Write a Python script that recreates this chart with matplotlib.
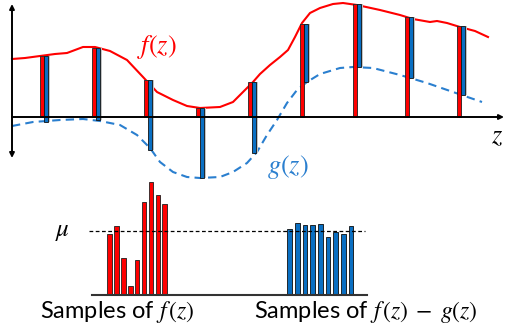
import numpy as np
import matplotlib.pyplot as plt

plt.rcParams["mathtext.fontset"] = "stix"

# --- top panel: curves f(z), g(z) and the sampled points ---
f_curve_z = [12, 25, 40, 55, 67, 83, 95, 110, 127, 143, 157, 173, 187, 200, 220, 233,
             245, 253, 260, 270, 280, 288, 295, 302, 310, 320, 333, 343, 357, 380, 400,
             413, 430, 437, 447, 460, 475, 488]
f_curve_v = [58, 59, 61, 63, 64, 70, 70, 66, 57, 40, 25, 17, 11, 9, 10, 15,
             27, 35, 43, 52, 60, 67, 80, 94, 104, 109, 113, 114, 112, 107, 102,
             98, 95, 96, 94, 90, 86, 80]

g_curve_z = [12, 33, 60, 83, 100, 120, 137, 150, 160, 173, 187, 200, 220, 233, 247,
             257, 267, 277, 287, 297, 307, 320, 340, 353, 373, 400, 427, 453, 482]
g_curve_v = [-9, -5, -3, -2, -4, -8, -18, -31, -45, -55, -60, -61, -60, -55, -46,
             -35, -18, -3, 14, 27, 35, 43, 49, 50, 49, 42, 34, 25, 15]

sample_z = [44, 96, 148, 200, 252, 304, 357, 409, 461]
f_samples = [61, 69, 37, 9, 35, 93, 113, 100, 91]
g_samples = [-5, -3, -33, -61, -36, 35, 50, 39, 22]

mu = 64

RED = "#ff0000"
BLUE = "#0a6fc2"
BLUE_LINE = "#2a7fcf"

f_samples = np.array(f_samples)
g_samples = np.array(g_samples)
sample_z = np.array(sample_z)

fig = plt.figure(figsize=(5.05, 3.31), dpi=100)

# top axes: 1 data unit = 1 pixel, baseline at 0
ax = fig.add_axes([0, 141 / 331, 1, 190 / 331])
ax.set_xlim(0, 505)
ax.set_ylim(-73, 117)
ax.axis("off")

ax.plot(f_curve_z, f_curve_v, color=RED, lw=1.5, zorder=2, solid_joinstyle="round")
ax.plot(g_curve_z, g_curve_v, color=BLUE_LINE, lw=1.5, ls=(0, (4, 2.5)), zorder=2)

bw = 4.4
# soft grey shadow behind bars
ax.bar(sample_z - bw / 2 + 1.2, f_samples, width=bw, color="#c4c4c4", zorder=2.5)
ax.bar(sample_z + bw / 2 + 1.2, f_samples - g_samples, bottom=g_samples, width=bw,
       color="#c4c4c4", zorder=2.5)
ax.bar(sample_z - bw / 2, f_samples, width=bw, color=RED, edgecolor="#222222",
       lw=0.6, zorder=3)
ax.bar(sample_z + bw / 2, f_samples - g_samples, bottom=g_samples, width=bw,
       color=BLUE, edgecolor="#111111", lw=0.6, zorder=3)

# axes arrows
ax.annotate("", xy=(12, 113), xytext=(12, -41),
            arrowprops=dict(arrowstyle="<|-|>", color="black", lw=1.4,
                            mutation_scale=7, shrinkA=0, shrinkB=0), zorder=4)
ax.annotate("", xy=(504, 0), xytext=(12, 0),
            arrowprops=dict(arrowstyle="-|>", color="black", lw=1.4,
                            mutation_scale=7, shrinkA=0, shrinkB=0), zorder=4)

ax.text(157, 70, r"$f(z)$", color=RED, fontsize=19, ha="center", va="center")
ax.text(288, -50, r"$g(z)$", color=BLUE_LINE, fontsize=19, ha="center", va="center")
ax.text(497, -19, r"$z$", color="black", fontsize=19, ha="center", va="center")

# --- bottom panel: samples ---
bx = fig.add_axes([0, 0, 1, 161 / 331])
bx.set_xlim(0, 505)
bx.set_ylim(-36, 125)
bx.axis("off")

red_x = 109.5 + 6.9 * np.arange(len(f_samples))
blue_x = 289.5 + 7.7 * np.arange(len(f_samples))
diff = f_samples - g_samples

bx.bar(red_x + 1.0, f_samples, width=4.6, color="#c4c4c4", zorder=1)
bx.bar(blue_x + 1.0, diff, width=4.6, color="#c4c4c4", zorder=1)
bx.bar(red_x, f_samples, width=4.6, color=RED, edgecolor="#222222", lw=0.6, zorder=2)
bx.bar(blue_x, diff, width=4.6, color=BLUE, edgecolor="#111111", lw=0.6, zorder=2)

bx.plot([92, 367], [0, 0], color="#333333", lw=1.5, zorder=3)
bx.plot([89, 365], [mu, mu], color="black", lw=0.9, ls=(0, (3, 2)), zorder=3)
bx.text(62, mu, r"$\mu$", fontsize=18, ha="center", va="center")

bx.text(117, -17, r"Samples of $f\,(z)$", fontsize=17, family="Lato",
        ha="center", va="center")
bx.text(366, -17, r"Samples of $f\,(z)\;-\;g(z)$", fontsize=17, family="Lato",
        ha="center", va="center")

fig.savefig("out.png", dpi=100)
